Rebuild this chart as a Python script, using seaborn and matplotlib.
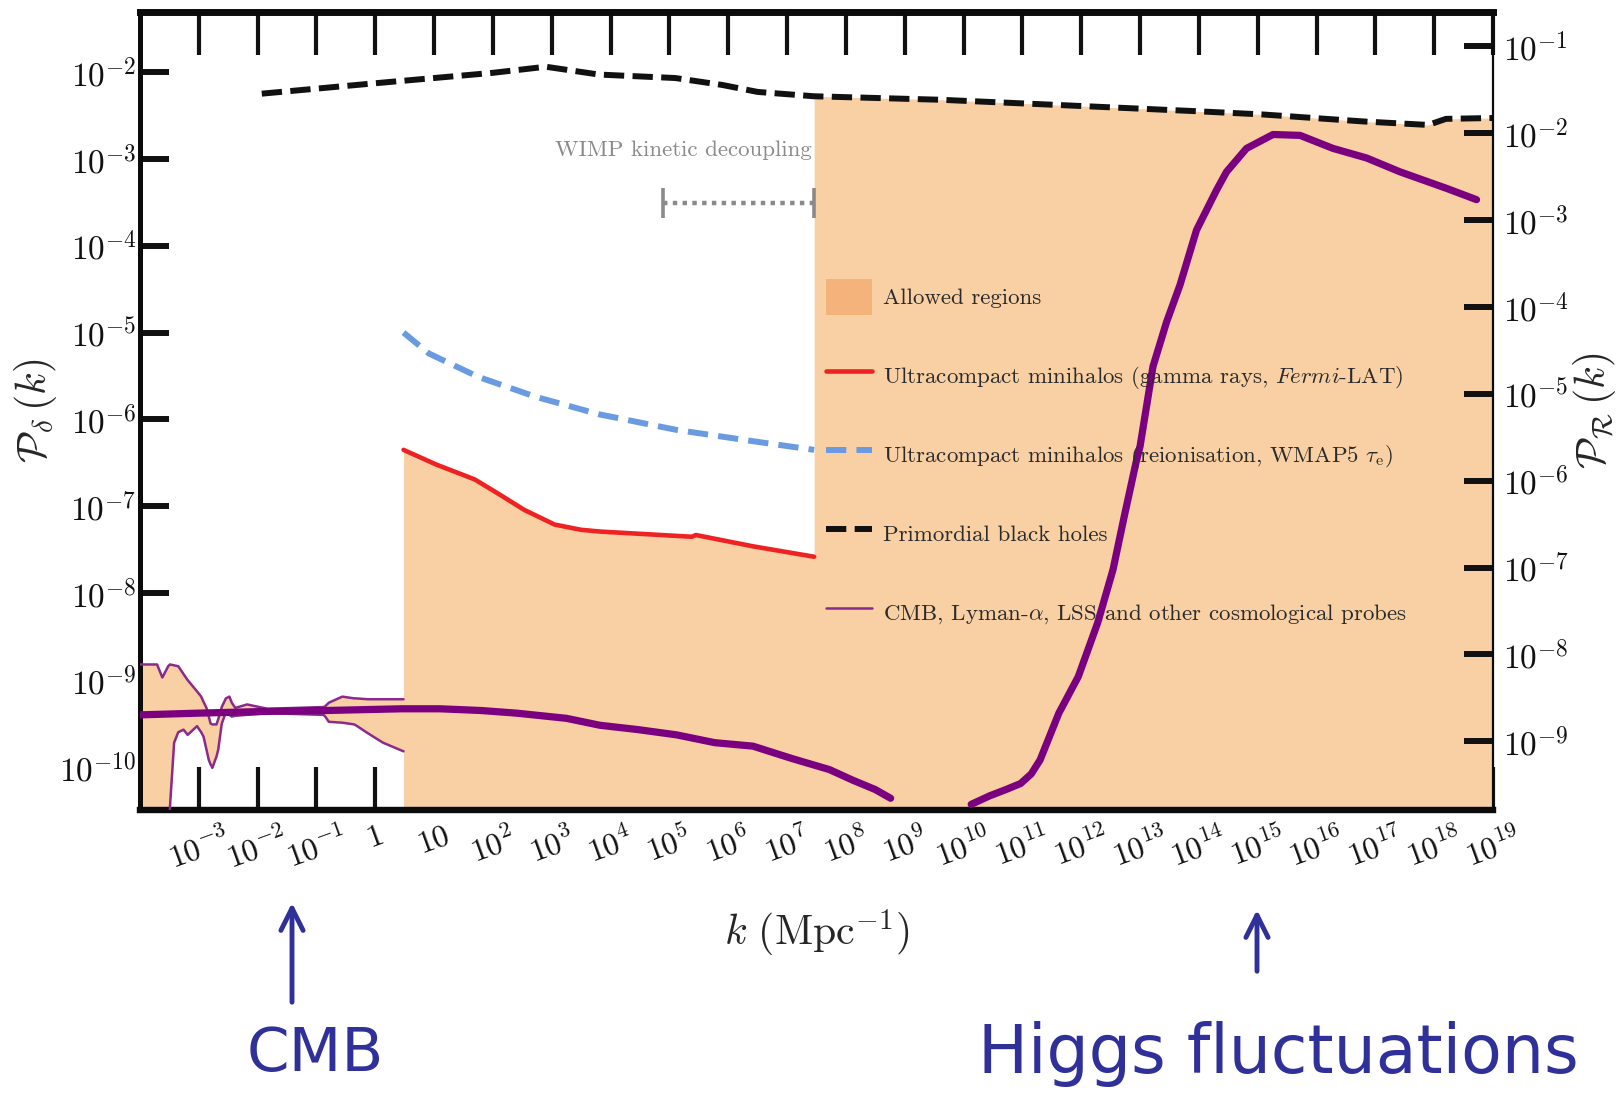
import numpy as np
import pandas as pd
import matplotlib
matplotlib.use("Agg")
import matplotlib.pyplot as plt
from matplotlib.lines import Line2D
from matplotlib.patches import Patch, FancyArrowPatch
from matplotlib.ticker import NullLocator
import seaborn as sns

# ---------------- data (log10 of k in Mpc^-1 and of P_delta) ----------------
# Primordial black holes bound
pbh_logk = [-1.93, 0.0, 2.0, 2.9, 3.8, 5.1, 5.9, 6.5, 7.46, 9.6, 11.6, 13.9, 15.1, 16.8, 17.9, 18.2, 19.0]
pbh_logp = [-2.25, -2.13, -2.01, -1.94, -2.03, -2.07, -2.15, -2.23, -2.28, -2.32, -2.38, -2.45, -2.49, -2.57, -2.61, -2.54, -2.53]

# Ultracompact minihalos, gamma rays (Fermi-LAT)
ucmh_gamma_logk = [0.48, 1.04, 1.69, 2.08, 2.53, 3.05, 3.5, 3.82, 4.6, 5.38, 5.45, 6.42, 7.46]
ucmh_gamma_logp = [-6.35, -6.52, -6.69, -6.85, -7.04, -7.21, -7.27, -7.29, -7.32, -7.35, -7.33, -7.46, -7.58]

# Ultracompact minihalos, reionisation (WMAP5 tau_e)
ucmh_reion_logk = [0.48, 0.91, 1.75, 2.73, 3.8, 5.12, 6.42, 7.46]
ucmh_reion_logp = [-5.0, -5.24, -5.51, -5.74, -5.94, -6.12, -6.25, -6.35]

# CMB / Lyman-alpha / LSS allowed band
band_logk = [-4.0, -3.71, -3.62, -3.52, -3.49, -3.42, -3.35, -3.26, -3.19, -3.03, -2.96, -2.92,
             -2.87, -2.83, -2.80, -2.77, -2.70, -2.67, -2.64, -2.61, -2.54, -2.48, -2.44, -2.38,
             -2.18, -1.83, -0.88, -0.85, -0.79, -0.56, -0.36, -0.33, -0.13, 0.13, 0.48]
band_upper = [-8.82, -8.82, -8.97, -8.84, -8.82, -8.83, -8.84, -8.93, -9.00, -9.13, -9.19, -9.25,
              -9.32, -9.42, -9.50, -9.51, -9.51, -9.45, -9.38, -9.31, -9.21, -9.19, -9.26, -9.32,
              -9.28, -9.33, -9.31, -9.30, -9.26, -9.19, -9.21, -9.21, -9.22, -9.22, -9.22]
band_lower = [-11.0, -11.0, -11.0, -11.0, -10.45, -9.72, -9.60, -9.57, -9.63, -9.53, -9.60, -9.65,
              -9.80, -9.92, -9.97, -10.01, -9.88, -9.80, -9.65, -9.50, -9.37, -9.40, -9.42, -9.41,
              -9.40, -9.38, -9.40, -9.42, -9.48, -9.49, -9.51, -9.52, -9.61, -9.72, -9.82]

# Hand-drawn spectrum: low-k part and Higgs-fluctuation part
cmb_curve_logk = [-4.0, -3.0, -1.83, -0.85, 0.45, 1.10, 1.8, 2.40, 3.25, 3.82, 4.47, 5.12,
                  5.77, 6.42, 7.07, 7.72, 8.11, 8.50, 8.76]
cmb_curve_logp = [-9.40, -9.38, -9.36, -9.35, -9.33, -9.33, -9.35, -9.38, -9.44, -9.52, -9.57, -9.63,
                  -9.72, -9.76, -9.90, -10.03, -10.15, -10.26, -10.36]
higgs_curve_logk = [10.13, 10.45, 10.72, 10.97, 11.15, 11.30, 11.62, 11.95, 12.28, 12.54, 12.73, 12.93,
                    13.0, 13.22, 13.45, 13.68, 13.96, 14.30, 14.47, 14.81, 15.26, 15.72, 16.28, 16.85,
                    17.42, 18.21, 18.72]
higgs_curve_logp = [-10.43, -10.33, -10.26, -10.19, -10.08, -9.92, -9.38, -8.96, -8.34, -7.73, -7.12, -6.50,
                    -6.31, -5.39, -4.88, -4.45, -3.82, -3.36, -3.15, -2.88, -2.72, -2.73, -2.88, -2.99,
                    -3.15, -3.34, -3.47]

# WIMP kinetic decoupling range
wimp_logk = [4.89, 7.46]
wimp_logp = -3.51

# Axis ticks
x_tick_exps = list(range(-3, 20))
y_left_exps = list(range(-10, -1))
y_right_exps = list(range(-9, 0))

# Curvature vs density perturbation conversion, P_R = (81/16) P_delta
R_FACTOR = 81.0 / 16.0

# ---------------- styling ----------------
sns.set_theme(style="ticks")
plt.rcParams.update({
    "font.family": ["cmr10", "DejaVu Serif"],
    "mathtext.fontset": "cm",
    "axes.unicode_minus": False,
    "axes.formatter.use_mathtext": True,
})

FILL = "#F8D0A4"
LEGEND_FILL = "#F4B37A"
RED = "#EE2222"
BLUE = "#6A9BE0"
PURPLE_THIN = "#8A2A8C"
PURPLE = "#7A0080"
INK = "#30309A"

W, H = 1616, 1099
fig = plt.figure(figsize=(W / 100, H / 100), dpi=100)
ax = fig.add_axes([140 / W, 1 - 810 / H, 1353 / W, 798 / H])
ax.set_xscale("log")
ax.set_yscale("log")
ax.set_xlim(1e-4, 1e19)
ax.set_ylim(10 ** -10.495, 10 ** -1.31)

def p10(v):
    return np.power(10.0, np.asarray(v, dtype=float))

# allowed regions as one outline: CMB band, then everything below the
# gamma-ray and black-hole bounds
pbh_k = np.array(pbh_logk)
sel = pbh_k >= ucmh_gamma_logk[-1]
floor = -12.0
allowed_k = np.concatenate([band_logk, ucmh_gamma_logk, pbh_k[sel]])
allowed_lo = np.concatenate([band_lower, [floor] * len(ucmh_gamma_logk), [floor] * int(sel.sum())])
allowed_hi = np.concatenate([band_upper, ucmh_gamma_logp, np.array(pbh_logp)[sel]])
ax.fill_between(p10(allowed_k), p10(allowed_lo), p10(allowed_hi), color=FILL, lw=0, zorder=1)

# band boundary lines
band_df = pd.DataFrame({"k": p10(band_logk), "up": p10(band_upper), "lo": p10(band_lower)})
sns.lineplot(data=band_df, x="k", y="up", ax=ax, color=PURPLE_THIN, lw=1.8,
             estimator=None, sort=False, zorder=3)
sns.lineplot(data=band_df, x="k", y="lo", ax=ax, color=PURPLE_THIN, lw=1.8,
             estimator=None, sort=False, zorder=3)

# constraint curves
sns.lineplot(x=p10(ucmh_gamma_logk), y=p10(ucmh_gamma_logp), ax=ax, color=RED, lw=3.3,
             estimator=None, sort=False, zorder=4)
sns.lineplot(x=p10(ucmh_reion_logk), y=p10(ucmh_reion_logp), ax=ax, color=BLUE, lw=4.3,
             estimator=None, sort=False, zorder=4)
ax.lines[-1].set_dashes((3.4, 1.7))
sns.lineplot(x=p10(pbh_logk), y=p10(pbh_logp), ax=ax, color="#111111", lw=4.3,
             estimator=None, sort=False, zorder=4)
ax.lines[-1].set_dashes((3.4, 1.4))

# hand-drawn spectrum
for lk, lp in ((cmb_curve_logk, cmb_curve_logp), (higgs_curve_logk, higgs_curve_logp)):
    sns.lineplot(x=p10(lk), y=p10(lp), ax=ax, color=PURPLE, lw=5.2,
                 estimator=None, sort=False, zorder=6)
    ax.lines[-1].set_solid_capstyle("round")
    ax.lines[-1].set_solid_joinstyle("round")

ax.set_xlabel("")
ax.set_ylabel("")

# WIMP kinetic decoupling marker
wk = p10(wimp_logk)
wp = 10 ** wimp_logp
ax.plot(wk, [wp, wp], color="#8a8a8a", lw=3.2, dashes=(1.0, 1.2), zorder=5)
ax.plot(wk, [wp, wp], ls="none", marker="|", ms=22, mew=2.6, color="#8a8a8a", zorder=5)
ax.text(10 ** 7.42, 10 ** -2.9, "WIMP kinetic decoupling", ha="right", va="center",
        fontsize=16.5, color="#8a8a8a", family=["cmr10", "DejaVu Serif"])

# ticks
ax.xaxis.set_minor_locator(NullLocator())
ax.yaxis.set_minor_locator(NullLocator())

def xlab(e):
    if e == 0:
        return "$1$"
    if e == 1:
        return "$10$"
    return "$10^{%d}$" % e

ax.set_xticks(p10(x_tick_exps), [xlab(e) for e in x_tick_exps])
ax.set_yticks(p10(y_left_exps), ["$10^{%d}$" % e for e in y_left_exps])
ax.tick_params(axis="x", direction="in", length=31, width=3, top=True, bottom=True,
               labeltop=False, pad=9, labelsize=23, labelrotation=20, colors="#111111")
ax.tick_params(axis="y", direction="in", length=21, width=4.3, left=True, right=False,
               pad=2.5, labelsize=24, colors="#111111")
for lab in ax.get_xticklabels():
    lab.set_ha("center")

for side, lw in (("top", 5.0), ("left", 3.6), ("bottom", 4.6)):
    ax.spines[side].set_linewidth(lw)
    ax.spines[side].set_color("#0b0b0b")
ax.spines["right"].set_visible(False)

ax2 = ax.twinx()
ax2.set_yscale("log")
lo, hi = ax.get_ylim()
ax2.set_ylim(lo * R_FACTOR, hi * R_FACTOR)
ax2.yaxis.set_minor_locator(NullLocator())
ax2.set_yticks(p10(y_right_exps), ["$10^{%d}$" % e for e in y_right_exps])
ax2.tick_params(axis="y", direction="in", length=21, width=4.3, pad=7, labelsize=24,
                colors="#111111")
for side in ("top", "left", "bottom"):
    ax2.spines[side].set_visible(False)
ax2.spines["right"].set_linewidth(1.6)
ax2.spines["right"].set_color("#0b0b0b")

# axis labels
ax.text(0.5, -0.155, r"$k\ (\mathrm{Mpc}^{-1})$", transform=ax.transAxes,
        ha="center", va="center", fontsize=30)
ax.text(-0.077, 0.5, r"$\mathcal{P}_{\delta}\,(k)$", transform=ax.transAxes,
        ha="center", va="center", rotation=90, fontsize=30)
ax.text(1.075, 0.5, r"$\mathcal{P}_{\mathcal{R}}\,(k)$", transform=ax.transAxes,
        ha="center", va="center", rotation=90, fontsize=30)

# legend
handles = [
    Patch(facecolor=LEGEND_FILL, edgecolor="none"),
    Line2D([], [], color=RED, lw=3.3),
    Line2D([], [], color=BLUE, lw=4.3, dashes=(3.4, 1.7)),
    Line2D([], [], color="#111111", lw=4.3, dashes=(3.4, 1.4)),
    Line2D([], [], color=PURPLE_THIN, lw=1.8),
]
labels = [
    "Allowed regions",
    r"Ultracompact minihalos (gamma rays, $\mathit{Fermi}$-LAT)",
    r"Ultracompact minihalos (reionisation, WMAP5 $\tau_{\mathrm{e}}$)",
    "Primordial black holes",
    r"CMB, Lyman-$\alpha$, LSS and other cosmological probes",
]
leg = ax.legend(handles, labels, loc="upper left", bbox_to_anchor=(0.507, 0.665),
                frameon=False, fontsize=16.5, handlelength=2.0, handleheight=2.0,
                handletextpad=0.5, labelspacing=1.9, borderpad=0, borderaxespad=0)
for t in leg.get_texts():
    t.set_color("#2a2a2a")
leg.set_zorder(7)

# handwritten notes
fig.text(315 / W, 1 - 1054 / H, "CMB", ha="center", va="center", fontsize=44,
         color=INK, family="DejaVu Sans")
fig.text(1278 / W, 1 - 1054 / H, "Higgs fluctuations", ha="center", va="center", fontsize=48,
         color=INK, family="DejaVu Sans")
arrow_kw = dict(arrowstyle="->", color=INK, lw=3.5, mutation_scale=40)
fig.add_artist(FancyArrowPatch((292 / W, 1 - 1005 / H), (292 / W, 1 - 900 / H),
                               transform=fig.transFigure, **arrow_kw))
fig.add_artist(FancyArrowPatch((1257 / W, 1 - 974 / H), (1257 / W, 1 - 907 / H),
                               transform=fig.transFigure, **arrow_kw))

fig.savefig("out.png", dpi=100)
